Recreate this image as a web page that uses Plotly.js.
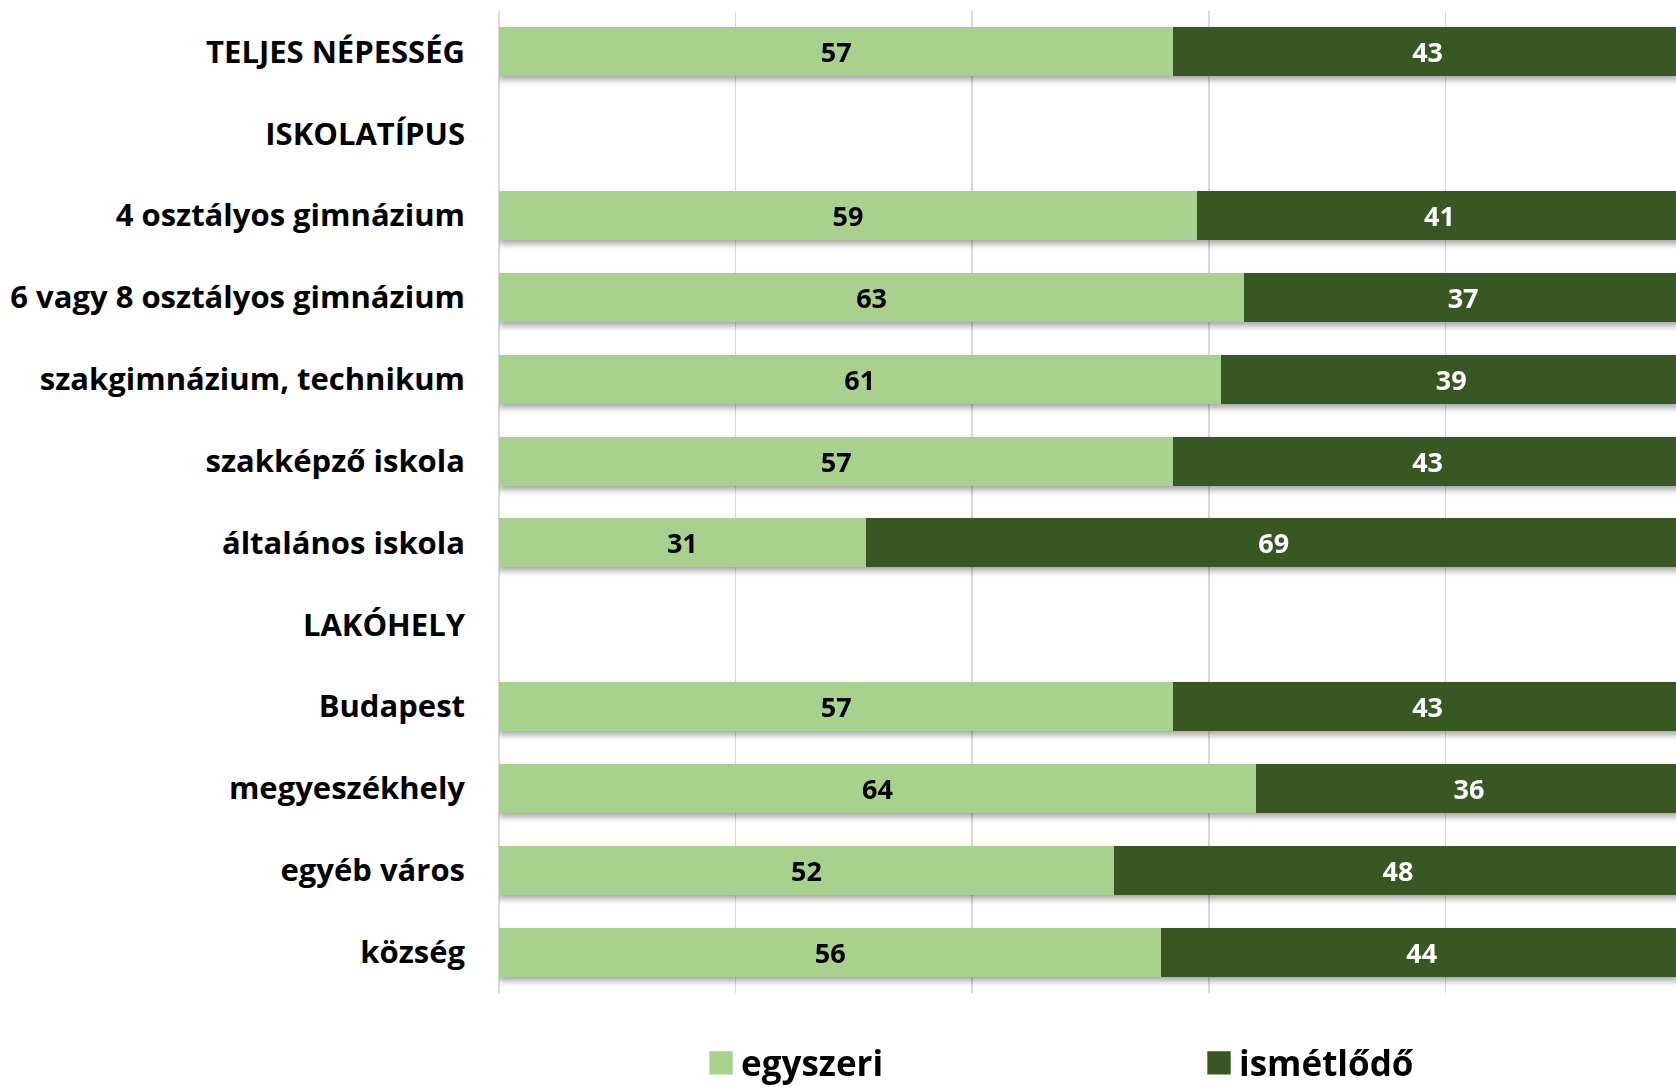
<!DOCTYPE html>
<html>
<head>
<meta charset="utf-8">
<script src="https://cdn.plot.ly/plotly-3.0.1.min.js"></script>
<style>
  html, body { margin: 0; padding: 0; background: #fff; }
  #chart { width: 1676px; height: 1087px; }
  .barlayer { filter: drop-shadow(0px 4px 3px rgba(0,0,0,0.35)); }
</style>
</head>
<body>
<div id="chart"></div>
<script>
const categories = [
  "TELJES NÉPESSÉG",
  "ISKOLATÍPUS",
  "4 osztályos gimnázium",
  "6 vagy 8 osztályos gimnázium",
  "szakgimnázium, technikum",
  "szakképző iskola",
  "általános iskola",
  "LAKÓHELY",
  "Budapest",
  "megyeszékhely",
  "egyéb város",
  "község"
];
const egyszeri   = [57, null, 59, 63, 61, 57, 31, null, 57, 64, 52, 56];
const ismetlodo  = [43, null, 41, 37, 39, 43, 69, null, 43, 36, 48, 44];
const seriesNames = ["egyszeri", "ismétlődő"];

const FONT = "'Open Sans', Lato, sans-serif";

const traces = [
  {
    type: "bar", orientation: "h", name: seriesNames[0],
    y: categories, x: egyszeri,
    marker: { color: "#A9D18E" },
    text: egyszeri.map(v => v == null ? "" : String(v)),
    textposition: "inside", insidetextanchor: "middle",
    textfont: { family: FONT, size: 27, color: "#000000", weight: 700 },
    legend: "legend",
    hoverinfo: "x+y"
  },
  {
    type: "bar", orientation: "h", name: seriesNames[1],
    y: categories, x: ismetlodo,
    marker: { color: "#385723" },
    text: ismetlodo.map(v => v == null ? "" : String(v)),
    textposition: "inside", insidetextanchor: "middle",
    textfont: { family: FONT, size: 27, color: "#FFFFFF", weight: 700 },
    legend: "legend2",
    hoverinfo: "x+y"
  }
];

const legendBase = {
  orientation: "h",
  xref: "container", yref: "container",
  xanchor: "left",
  y: 0.022, yanchor: "middle",
  bgcolor: "rgba(0,0,0,0)",
  font: { family: FONT, size: 35, color: "#000000", weight: 700 }
};

const layout = {
  width: 1676, height: 1087,
  margin: { l: 499, r: 0, t: 11, b: 94, pad: 0 },
  paper_bgcolor: "#FFFFFF", plot_bgcolor: "#FFFFFF",
  barmode: "stack",
  bargap: 0.4,
  font: { family: FONT, color: "#000000" },
  xaxis: {
    range: [0, 99.5],
    dtick: 20, tick0: 0,
    showgrid: true, gridcolor: "#D9D9D9", gridwidth: 1.5,
    zeroline: true, zerolinecolor: "#D9D9D9", zerolinewidth: 1.5,
    showticklabels: false, showline: false, ticks: "",
    fixedrange: true
  },
  yaxis: {
    autorange: "reversed",
    type: "category",
    showgrid: false, zeroline: false, showline: false,
    ticks: "",
    ticklabelstandoff: 33,
    tickfont: { family: FONT, size: 31, color: "#000000", weight: 700 },
    fixedrange: true
  },
  showlegend: true,
  legend: Object.assign({}, legendBase, { x: 0.4183 }),
  legend2: Object.assign({}, legendBase, { x: 0.7154 })
};

function enlargeLegendSymbols() {
  document.querySelectorAll("g.legendpoints path").forEach(p => {
    p.setAttribute("transform", "translate(20,0) scale(1.95)");
  });
}

Plotly.newPlot("chart", traces, layout, { displayModeBar: false, staticPlot: true })
  .then(gd => {
    enlargeLegendSymbols();
    gd.on("plotly_afterplot", enlargeLegendSymbols);
  });
</script>
</body>
</html>
